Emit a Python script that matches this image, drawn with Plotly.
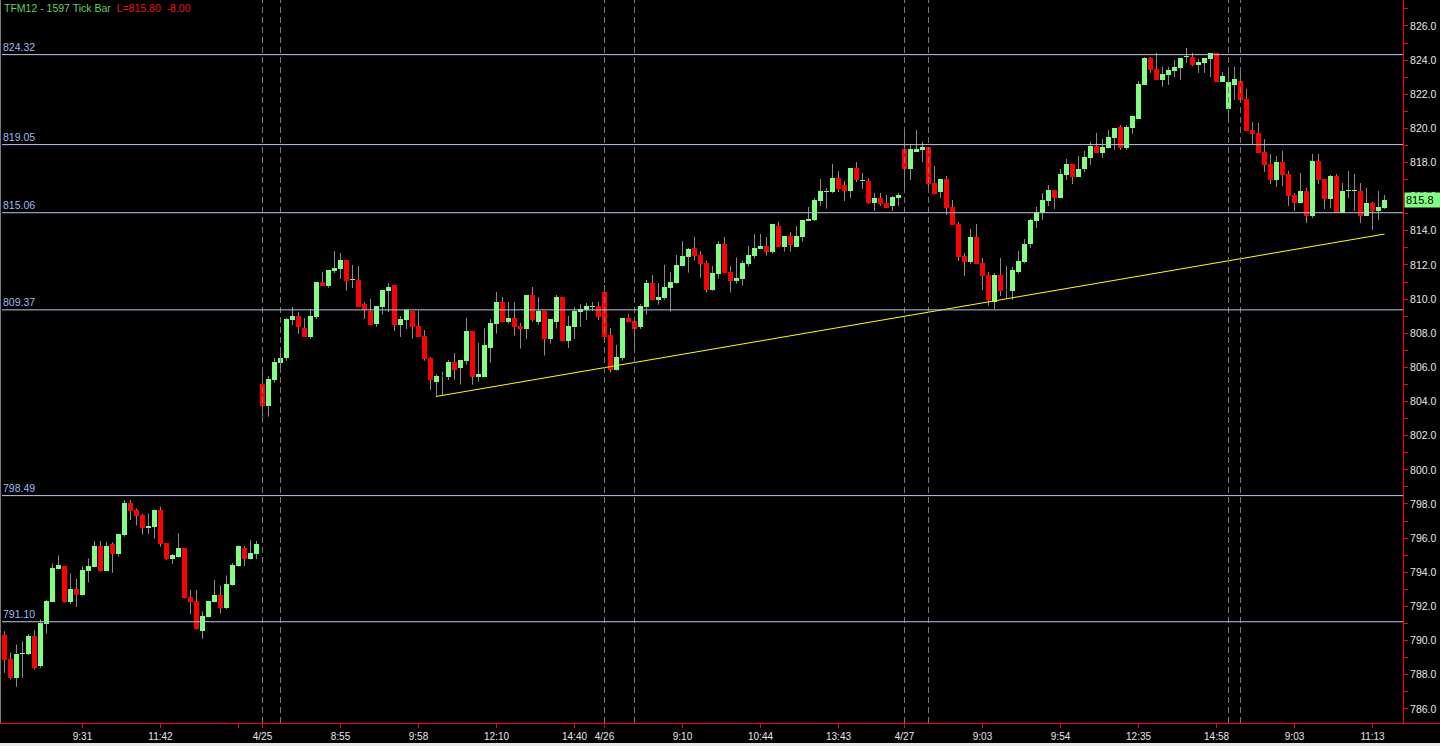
import plotly.graph_objects as go

# ---------------- data ----------------
open_ = [
    790.32, 788.91, 787.82, 789.22, 789.22, 790.28, 788.52, 790.98, 792.27, 794.19,
    794.36, 792.27, 793.01, 792.66, 794.09, 794.32, 795.53, 794.09, 795.65, 795.08,
    796.18, 798.05, 797.64, 797.35, 796.61, 796.65, 797.64, 795.71, 794.77, 794.89,
    795.42, 792.55, 792.31, 790.57, 791.39, 792.27, 792.66, 791.90, 793.23, 794.36,
    795.42, 794.77, 795.06, 805.03, 803.76, 805.28, 806.28, 806.57, 808.78, 809.01,
    808.31, 807.78, 808.95, 811.00, 810.79, 811.65, 811.76, 812.29, 811.10, 811.12,
    809.71, 809.30, 808.54, 809.54, 810.47, 810.83, 808.48, 808.78, 809.30, 808.42,
    807.84, 806.55, 805.14, 805.47, 805.44, 806.32, 805.98, 806.39, 808.13, 805.46,
    805.46, 807.16, 808.56, 809.83, 808.68, 808.89, 808.42, 808.25, 810.24, 808.68,
    809.30, 807.66, 808.68, 810.12, 807.55, 808.37, 809.26, 809.36, 809.56, 809.60,
    810.42, 807.90, 805.87, 806.57, 808.91, 808.72, 808.37, 809.56, 810.94, 809.97,
    810.09, 810.67, 810.96, 811.96, 812.49, 813.00, 812.58, 812.12, 810.55, 811.47,
    813.23, 811.61, 811.08, 811.20, 812.08, 812.53, 812.96, 813.11, 812.78, 814.28,
    813.07, 813.70, 813.07, 813.64, 814.60, 814.64, 815.75, 816.29, 816.27, 817.09,
    816.68, 816.33, 817.68, 816.90, 816.92, 815.63, 815.92, 815.63, 815.45, 815.92,
    818.79, 817.62, 818.62, 818.73, 818.91, 816.80, 816.27, 817.04, 815.39, 814.40,
    812.52, 812.17, 813.64, 812.11, 811.41, 809.83, 811.41, 810.51, 810.47, 811.60,
    812.20, 813.20, 814.58, 815.04, 815.75, 816.39, 815.92, 817.27, 817.92, 817.15,
    817.62, 818.27, 818.97, 818.56, 818.85, 819.44, 820.08, 818.85, 820.02, 820.55,
    822.54, 824.13, 823.48, 822.84, 823.13, 823.36, 823.54, 824.18, 824.18, 823.72,
    823.83, 824.07, 824.42, 822.72, 821.14, 822.54, 822.78, 821.72, 819.91, 819.73,
    818.62, 817.92, 816.98, 818.03, 817.33, 816.10, 815.63, 816.33, 814.87, 818.09,
    817.04, 815.86, 817.21, 815.04, 816.33, 816.33, 816.33, 814.87, 815.63, 815.16,
    815.34,
]
high = [
    790.55, 789.30, 789.77, 789.95, 790.38, 790.61, 791.24, 792.37, 794.52, 794.99,
    794.36, 793.93, 793.62, 794.36, 794.81, 795.83, 795.83, 795.77, 795.75, 796.24,
    798.23, 798.23, 797.74, 797.43, 797.43, 797.68, 797.84, 795.71, 795.06, 796.28,
    795.42, 792.96, 792.96, 791.72, 792.33, 793.54, 793.23, 793.81, 794.54, 795.57,
    795.53, 795.88, 795.83, 805.85, 805.49, 806.55, 807.02, 808.89, 809.54, 809.24,
    808.89, 809.42, 811.00, 811.59, 811.71, 812.82, 812.70, 812.29, 812.00, 811.94,
    809.83, 810.01, 809.60, 810.53, 810.94, 810.83, 809.01, 809.42, 809.30, 809.30,
    808.19, 806.61, 805.61, 805.73, 806.43, 806.84, 806.43, 808.89, 808.13, 807.43,
    808.29, 808.83, 810.42, 810.12, 809.83, 809.83, 808.60, 810.24, 810.71, 810.12,
    809.30, 808.83, 810.24, 810.12, 809.01, 809.54, 809.71, 809.77, 809.83, 809.83,
    810.83, 808.31, 807.31, 808.91, 809.13, 808.87, 809.71, 811.12, 811.41, 810.94,
    812.00, 811.59, 812.58, 813.40, 813.00, 813.64, 812.82, 812.25, 811.94, 813.40,
    813.64, 811.94, 812.43, 812.25, 813.11, 813.81, 813.81, 813.64, 814.40, 814.54,
    813.70, 813.93, 814.28, 814.64, 815.40, 815.92, 817.04, 816.51, 817.92, 817.50,
    816.92, 817.68, 818.03, 817.39, 817.09, 816.22, 816.22, 816.10, 816.04, 816.22,
    819.79, 819.09, 819.91, 819.20, 818.91, 817.80, 817.04, 817.21, 815.81, 814.52,
    812.70, 814.11, 814.40, 812.41, 811.59, 811.53, 812.41, 811.94, 811.90, 812.82,
    813.52, 814.70, 815.40, 816.22, 816.68, 816.39, 817.62, 818.21, 817.92, 818.38,
    818.68, 819.20, 819.73, 819.38, 819.91, 820.02, 820.20, 820.20, 820.73, 822.78,
    824.18, 824.18, 824.42, 823.60, 823.60, 824.01, 824.13, 824.71, 824.42, 824.07,
    824.13, 824.42, 824.42, 823.31, 823.31, 823.60, 823.31, 822.31, 820.38, 820.32,
    819.38, 818.50, 818.38, 818.68, 817.51, 816.22, 817.39, 816.51, 818.50, 818.50,
    817.04, 817.27, 817.33, 816.80, 817.51, 817.33, 816.80, 816.51, 815.69, 816.33,
    816.10,
]
low = [
    788.11, 787.72, 787.29, 787.82, 789.15, 788.31, 788.40, 790.40, 792.25, 794.17,
    792.23, 792.14, 791.98, 792.62, 793.40, 794.28, 794.05, 794.05, 793.97, 794.91,
    796.08, 797.06, 796.74, 796.20, 796.24, 795.96, 795.49, 794.71, 794.48, 794.85,
    792.47, 791.53, 790.65, 790.10, 791.35, 792.23, 791.59, 791.84, 793.19, 794.32,
    794.36, 794.75, 794.77, 803.11, 803.11, 805.10, 805.85, 806.39, 808.48, 807.96,
    807.78, 807.68, 808.83, 810.79, 810.67, 811.53, 811.18, 810.49, 810.65, 809.54,
    808.83, 808.48, 808.37, 809.09, 809.24, 808.13, 807.78, 808.25, 807.68, 807.78,
    806.39, 804.67, 804.25, 804.38, 805.26, 805.28, 804.99, 806.16, 804.99, 805.16,
    805.46, 806.28, 807.98, 808.68, 808.56, 807.86, 807.10, 807.66, 808.68, 808.50,
    806.69, 807.39, 808.27, 807.55, 807.14, 807.66, 808.37, 808.78, 809.30, 808.78,
    807.55, 805.69, 805.81, 806.39, 808.68, 807.14, 808.25, 809.09, 809.97, 809.67,
    809.97, 809.26, 810.90, 811.90, 811.55, 812.25, 811.26, 810.38, 810.49, 811.20,
    811.55, 810.38, 810.90, 810.79, 811.90, 812.37, 812.94, 812.55, 812.66, 813.07,
    812.78, 812.78, 813.07, 813.37, 814.58, 814.58, 815.47, 815.30, 816.20, 816.27,
    815.75, 815.92, 816.86, 816.45, 815.57, 815.16, 815.45, 815.34, 815.16, 815.45,
    816.50, 816.98, 818.62, 818.03, 816.45, 816.16, 815.92, 814.93, 814.34, 812.23,
    811.35, 812.06, 812.06, 810.53, 809.59, 809.42, 810.18, 810.00, 809.95, 811.50,
    812.10, 813.00, 814.17, 814.63, 815.45, 815.28, 815.92, 816.98, 816.74, 817.15,
    817.45, 817.86, 818.56, 818.27, 818.85, 818.74, 818.74, 818.74, 819.67, 820.55,
    822.54, 823.25, 822.84, 822.43, 822.54, 823.01, 822.84, 823.83, 823.66, 823.25,
    823.25, 823.01, 822.72, 822.72, 820.32, 821.66, 821.66, 819.85, 819.03, 818.56,
    817.45, 816.74, 816.57, 816.63, 815.45, 815.16, 815.63, 814.46, 814.75, 816.74,
    815.28, 815.34, 815.04, 815.04, 815.92, 815.16, 814.46, 814.87, 814.05, 814.63,
    815.28,
]
close = [
    788.85, 787.82, 789.24, 789.27, 790.26, 788.40, 791.00, 792.31, 794.24, 794.42,
    792.27, 793.01, 792.66, 794.13, 794.36, 795.53, 794.09, 795.53, 795.08, 796.24,
    798.05, 797.58, 797.31, 796.61, 796.70, 797.64, 795.67, 794.77, 795.01, 795.42,
    792.51, 792.27, 790.69, 791.43, 792.31, 792.66, 791.90, 793.31, 794.42, 795.53,
    794.77, 795.12, 795.65, 803.76, 805.32, 806.31, 806.55, 808.83, 809.01, 808.37,
    807.78, 809.01, 811.00, 810.79, 811.71, 811.82, 812.29, 811.06, 811.15, 809.54,
    809.36, 808.48, 809.60, 810.53, 810.71, 808.48, 808.83, 809.36, 808.37, 807.78,
    806.49, 805.26, 805.49, 805.52, 806.31, 805.87, 806.43, 808.13, 805.46, 805.61,
    807.31, 808.60, 809.83, 808.68, 808.89, 808.37, 808.25, 810.24, 808.80, 809.30,
    807.66, 808.83, 810.12, 807.55, 808.42, 809.32, 809.42, 809.60, 809.61, 808.97,
    807.78, 805.87, 806.61, 808.91, 808.68, 808.25, 809.62, 810.94, 809.97, 810.12,
    810.71, 811.00, 812.00, 812.53, 812.94, 812.53, 812.08, 810.55, 811.53, 813.23,
    811.55, 811.08, 811.24, 812.12, 812.58, 813.00, 813.11, 812.78, 814.40, 813.07,
    813.70, 813.19, 813.70, 814.64, 814.69, 815.81, 816.33, 816.34, 817.09, 816.45,
    816.33, 817.68, 816.98, 816.95, 815.63, 815.92, 815.57, 815.34, 815.98, 816.10,
    817.62, 818.79, 818.79, 818.91, 816.74, 816.16, 817.04, 815.34, 814.34, 812.47,
    812.17, 813.64, 812.06, 811.35, 809.95, 811.41, 810.47, 810.56, 811.71, 812.23,
    813.20, 814.63, 815.10, 815.81, 816.39, 815.92, 817.33, 817.92, 817.15, 817.62,
    818.33, 818.97, 818.56, 818.91, 819.50, 820.02, 818.85, 820.08, 820.73, 822.60,
    824.13, 823.42, 822.84, 823.19, 823.42, 823.60, 824.13, 824.23, 823.72, 823.89,
    824.13, 824.42, 822.72, 823.07, 822.72, 822.90, 821.66, 819.85, 819.67, 818.56,
    817.86, 816.98, 818.03, 817.27, 816.04, 815.63, 816.33, 814.87, 818.09, 816.98,
    815.86, 817.21, 815.04, 816.33, 816.38, 816.38, 814.87, 815.63, 815.16, 815.39,
    815.81,
]
assert len(open_) == len(high) == len(low) == len(close) == 231

bar_index = list(range(len(close)))

tick_positions = [13, 26, 39, 43, 56, 69, 82, 95, 100, 113, 126, 139,
                  150, 163, 176, 189, 202, 215, 228]
tick_labels = ["9:31", "11:42", "", "4/25", "8:55", "9:58", "12:10", "14:40",
               "4/26", "9:10", "10:44", "13:43", "4/27", "9:03", "9:54",
               "12:35", "14:58", "9:03", "11:13"]

session_lines = [43, 46, 100, 105, 150, 154, 204, 206]
levels = [824.32, 819.05, 815.06, 809.37, 798.49, 791.10]
trend_x = [72, 230]
trend_y = [804.30, 813.81]
symbol = "TFM12 - 1597 Tick Bar"
last_price = 815.80
change = -8.00

# ---------------- styling ----------------
GREEN = "#80ff80"
RED = "#ff0000"
WICK = "#8a8a8a"
FONT = "Arial, Liberation Sans, sans-serif"

fig = go.Figure()

# wicks (drawn outside the bodies)
wx, wy = [], []
for i, (o, h, l, c) in enumerate(zip(open_, high, low, close)):
    top, bot = max(o, c), min(o, c)
    if h > top:
        wx += [i, i, None]
        wy += [top, h, None]
    if l < bot:
        wx += [i, i, None]
        wy += [l, bot, None]
fig.add_trace(go.Scatter(x=wx, y=wy, mode="lines",
                         line=dict(color=WICK, width=1), hoverinfo="skip"))

# bodies
body_base = [min(o, c) for o, c in zip(open_, close)]
body_size = [abs(c - o) for o, c in zip(open_, close)]
body_col = [GREEN if c >= o else RED for o, c in zip(open_, close)]
fig.add_trace(go.Bar(x=bar_index, y=body_size, base=body_base, width=0.8,
                     marker=dict(color=body_col, line=dict(width=0))))

# trend line
fig.add_trace(go.Scatter(x=trend_x, y=trend_y, mode="lines",
                         line=dict(color="#ffff00", width=1), hoverinfo="skip"))

shapes = []
for s in session_lines:
    shapes.append(dict(type="line", xref="x", yref="paper", x0=s, x1=s, y0=0, y1=1,
                       line=dict(color="#7a7a7a", width=1, dash="6px,4px")))
for lv in levels:
    shapes.append(dict(type="line", xref="paper", yref="y", x0=0, x1=1, y0=lv, y1=lv,
                       line=dict(color="#b8c8e8", width=1)))
# bottom axis line spanning full width
shapes.append(dict(type="line", xref="paper", yref="paper", x0=-0.01, x1=1.03,
                   y0=-0.0007, y1=-0.0007, line=dict(color="#ff0000", width=1)))
# left border
shapes.append(dict(type="line", xref="paper", yref="paper", x0=-0.0011, x1=-0.0011,
                   y0=0, y1=1, line=dict(color="#808080", width=1)))
# bottom strip
shapes.append(dict(type="rect", xref="paper", yref="paper", x0=-0.01, x1=1.03,
                   y0=-0.0320, y1=-0.0277, line=dict(width=0), fillcolor="#e8e8e8"))

annotations = []
for lv in levels:
    annotations.append(dict(xref="paper", yref="y", x=0, y=lv, xanchor="left",
                            yanchor="bottom", showarrow=False, text=f"{lv:.2f}",
                            font=dict(family=FONT, size=10.5, color="#9dbcf0"),
                            borderpad=0, yshift=1))
annotations.append(dict(
    xref="paper", yref="paper", x=0, y=1, xanchor="left", yanchor="top",
    showarrow=False, borderpad=1,
    text=(f"<span style='color:#5fd35f'>{symbol}</span>  "
          f"<span style='color:#e81414'>L={last_price:.2f}  {change:.2f}</span>"),
    font=dict(family=FONT, size=10.5)))
annotations.append(dict(
    xref="paper", yref="y", x=1, y=last_price, xanchor="left", yanchor="middle",
    showarrow=False, text=f"{last_price:.1f}", bgcolor=GREEN, width=33,
    align="left", borderpad=1, xshift=1,
    font=dict(family=FONT, size=11, color="#000000")))

fig.update_layout(
    width=1440, height=746,
    margin=dict(l=2, r=37, t=0, b=23),
    paper_bgcolor="#000000", plot_bgcolor="#000000",
    showlegend=False, barmode="overlay", bargap=0, hovermode=False,
    shapes=shapes, annotations=annotations,
    xaxis=dict(range=[-0.4167, 233.08], tickmode="array", tickvals=tick_positions,
               ticktext=tick_labels, ticks="outside", ticklen=4, tickcolor="#ff0000",
               showgrid=False, zeroline=False, showline=False,
               tickfont=dict(family=FONT, size=10, color="#e6e6e6")),
    yaxis=dict(side="right", range=[785.17, 827.52], tick0=786, dtick=2,
               tickformat=".1f", ticks="outside", ticklen=4, tickcolor="#ff0000",
               showgrid=False, zeroline=False, showline=True, linecolor="#ff0000",
               linewidth=1,
               minor=dict(dtick=1, ticks="outside", ticklen=4, tickcolor="#ff0000",
                          showgrid=False),
               tickfont=dict(family=FONT, size=10.5, color="#e6e6e6")),
)

fig.write_html(
    "out.html",
    config={"displayModeBar": False, "staticPlot": True},
    post_script="document.body.style.margin='0';document.body.style.background='#000';",
)
